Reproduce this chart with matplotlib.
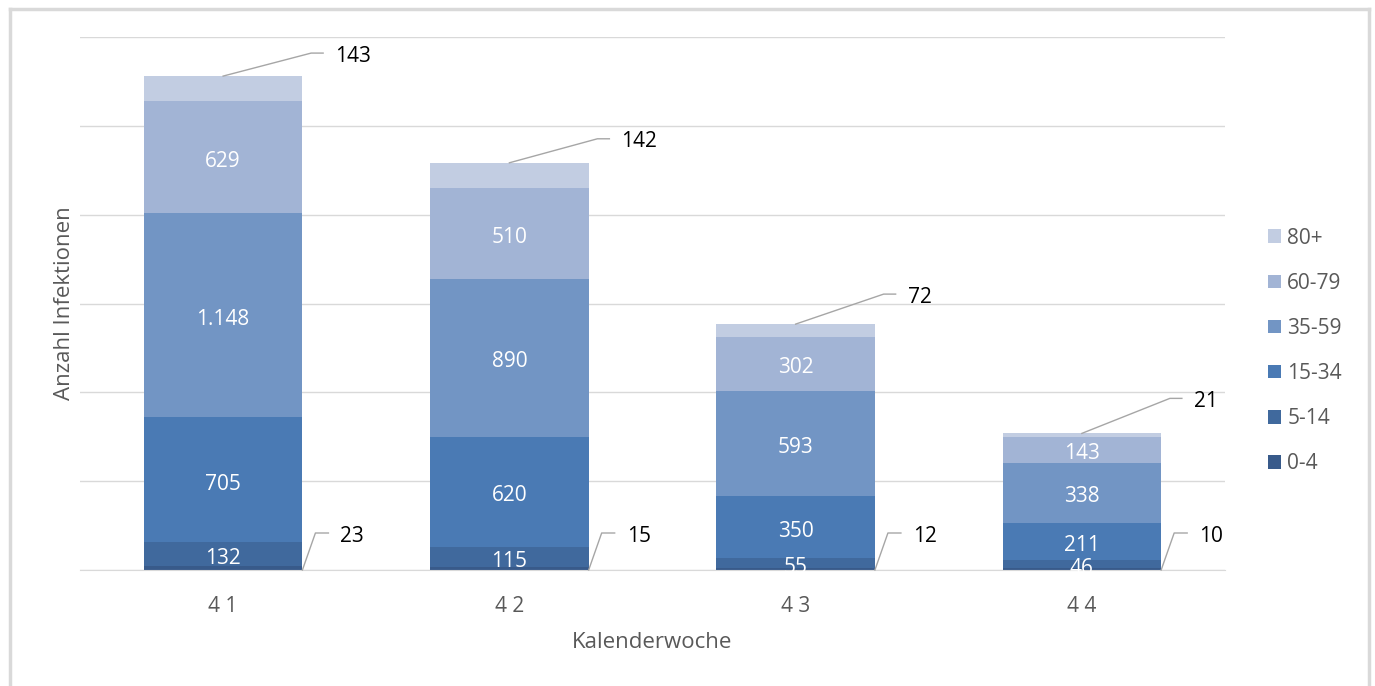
import matplotlib.pyplot as plt
import numpy as np
from matplotlib.lines import Line2D

plt.rcParams['font.family'] = ['Open Sans', 'DejaVu Sans']

wochen = ['4 1', '4 2', '4 3', '4 4']
gruppen = ['0-4', '5-14', '15-34', '35-59', '60-79', '80+']
werte = np.array([
    [23, 15, 12, 10],        # 0-4
    [132, 115, 55, 46],      # 5-14
    [705, 620, 350, 211],    # 15-34
    [1148, 890, 593, 338],   # 35-59
    [629, 510, 302, 143],    # 60-79
    [143, 142, 72, 21],      # 80+
])
farben = ['#385a8a', '#40699d', '#4a7ab4', '#7295c4', '#a2b4d5', '#c2cde2']

fig = plt.figure(figsize=(13.75, 6.86), dpi=100)
ax = fig.add_axes([80/1375, 116/686, 1145/1375, 533/686])

x = np.arange(len(wochen))
breite = 0.554
unten = np.zeros(len(wochen))
bars = []
for i, g in enumerate(gruppen):
    b = ax.bar(x, werte[i], breite, bottom=unten, color=farben[i], label=g, zorder=2)
    bars.append(b)
    if 0 < i < len(gruppen) - 1:
        for xi, v, u in zip(x, werte[i], unten):
            txt = '{:,}'.format(int(v)).replace(',', '.')
            ax.annotate(txt, (xi, u + v / 2), xytext=(0, -3), textcoords='offset points',
                        ha='center', va='center', color='white', fontsize=15, zorder=3)
    unten = unten + werte[i]

ax.set_xlim(-0.5, len(wochen) - 0.5)
ax.set_ylim(0, 3000)
ax.set_yticks(np.arange(0, 3001, 500))
ax.yaxis.grid(True, color='#d9d9d9', linewidth=1)
ax.set_yticklabels([])
ax.tick_params(axis='y', length=0)
ax.tick_params(axis='x', length=0, pad=19, labelsize=15, labelcolor='#595959')
ax.set_xticks(x)
ax.set_xticklabels(wochen)
for s in ['top', 'right', 'left']:
    ax.spines[s].set_visible(False)
ax.spines['bottom'].set_color('#d9d9d9')
ax.set_axisbelow(True)

ax.set_ylabel('Anzahl Infektionen', fontsize=16, color='#595959')
ax.set_xlabel('Kalenderwoche', fontsize=16, color='#595959')
ax.yaxis.set_label_coords(-5/1145, 0.5)
ax.xaxis.set_label_coords(0.5, -62/533)

# leader-line labels for the thin outer segments (pixel offsets)
inv = fig.transFigure.inverted()
def leader(p0, pts, text):
    px = [p0[0] + d[0] for d in pts]
    py = [p0[1] + d[1] for d in pts]
    fx, fy = zip(*inv.transform(list(zip(px, py))))
    fig.add_artist(Line2D(fx, fy, color='#a6a6a6', linewidth=1))
    tx, ty = inv.transform((px[-1] + 12, py[-1] - 3))
    fig.text(tx, ty, text, ha='left', va='center', fontsize=15, color='black')

oben_dy = [23, 24, 30, 35]
for xi in x:
    top = ax.transData.transform((xi, unten[xi]))
    dy = oben_dy[xi]
    leader(top, [(0, 0), (88, dy), (100, dy)], str(werte[-1][xi]))
    br = ax.transData.transform((xi + breite / 2, 0))
    leader(br, [(0, 0), (13, 37), (26, 37)], str(werte[0][xi]))

handles = [bars[i] for i in range(len(gruppen))][::-1]
leg = fig.legend(handles, gruppen[::-1], loc='center left',
                 bbox_to_anchor=(1268/1375, 1 - 351/686),
                 frameon=False, fontsize=15, labelspacing=1.16, handlelength=0.62,
                 handleheight=0.62, handletextpad=0.3, borderpad=0, borderaxespad=0)
for t in leg.get_texts():
    t.set_color('#595959')

# outer frame
rahmen = '#d9d9d9'
fig.add_artist(Line2D([10/1375, 10/1375], [0, 1 - 9/686], color=rahmen, linewidth=2.5))
fig.add_artist(Line2D([10/1375, 1369/1375], [1 - 9/686, 1 - 9/686], color=rahmen, linewidth=2.5))
fig.add_artist(Line2D([1369/1375, 1369/1375], [0, 1 - 9/686], color=rahmen, linewidth=2.5))

fig.savefig('out.png', dpi=100)
